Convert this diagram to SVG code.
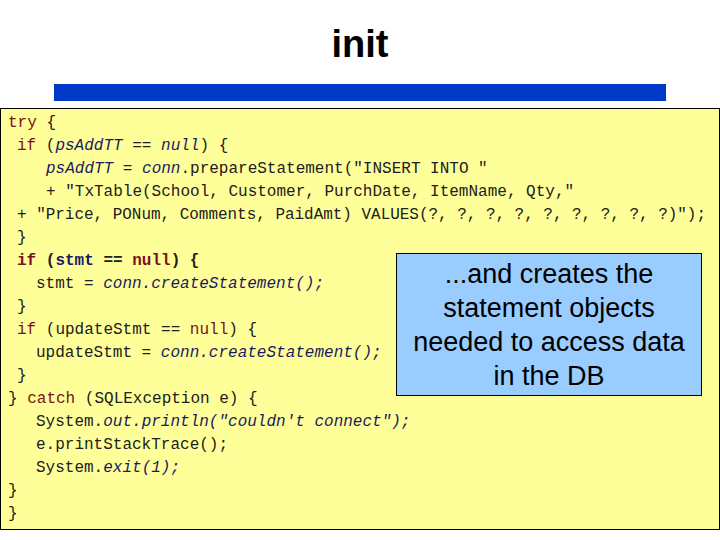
<svg xmlns="http://www.w3.org/2000/svg" width="720" height="540" viewBox="0 0 720 540">
<style>
.c{font-family:"Liberation Mono",monospace;font-size:16px;fill:#202020;white-space:pre}
.k{fill:#7a1020}.i{font-style:italic;fill:#1a1a60}.b{font-weight:bold}
.n{fill:#1a1a60}
.t{font-family:"Liberation Sans",Arial,sans-serif;font-size:27px;fill:#000;text-anchor:middle}
</style>
<rect width="720" height="540" fill="#fff"/>
<g id="title"><text x="360" y="57" font-family="Liberation Sans,Arial,sans-serif" font-size="38" font-weight="bold" text-anchor="middle">init</text></g>
<rect id="bar" x="54" y="84" width="612" height="17" fill="#0038c8"/>
<g id="code">
<rect x="0.5" y="108.5" width="719" height="421" fill="#ffff99" stroke="#000"/>
<text class="c" x="8" y="127"><tspan class="k">try</tspan> {</text>
<text class="c" x="17" y="150"><tspan class="k">if</tspan> (<tspan class="i">psAddTT</tspan> == <tspan class="i k">null</tspan>) {</text>
<text class="c" x="46" y="173"><tspan class="i">psAddTT</tspan> = <tspan class="i">conn</tspan>.prepareStatement("INSERT INTO "</text>
<text class="c" x="46" y="196">+ "TxTable(School, Customer, PurchDate, ItemName, Qty,"</text>
<text class="c" x="17" y="219" textLength="689" lengthAdjust="spacingAndGlyphs">+ "Price, PONum, Comments, PaidAmt) VALUES(?, ?, ?, ?, ?, ?, ?, ?, ?)");</text>
<text class="c" x="17" y="242">}</text>
<text class="c b" x="17" y="265"><tspan class="k">if</tspan> (<tspan class="n">stmt</tspan> == <tspan class="k">null</tspan>) {</text>
<text class="c" x="36" y="288">stmt = <tspan class="i">conn.createStatement();</tspan></text>
<text class="c" x="17" y="311">}</text>
<text class="c" x="17" y="334"><tspan class="k">if</tspan> (updateStmt == <tspan class="k">null</tspan>) {</text>
<text class="c" x="36" y="357">updateStmt = <tspan class="i">conn.createStatement();</tspan></text>
<text class="c" x="17" y="380">}</text>
<text class="c" x="8" y="403">} <tspan class="k">catch</tspan> (SQLException e) {</text>
<text class="c" x="36" y="426">System.<tspan class="i">out.println("couldn't connect");</tspan></text>
<text class="c" x="36" y="449">e.printStackTrace();</text>
<text class="c" x="36" y="472">System.<tspan class="i">exit(1);</tspan></text>
<text class="c" x="8" y="495">}</text>
<text class="c" x="8" y="518">}</text>
</g>
<g id="callout">
<rect x="396.5" y="253.5" width="305" height="142" fill="#99ccff" stroke="#000"/>
<text class="t" x="549" y="283">...and  creates the</text>
<text class="t" x="549" y="317">statement objects</text>
<text class="t" x="549" y="351">needed to access data</text>
<text class="t" x="549" y="385">in the DB</text>
</g>
</svg>
